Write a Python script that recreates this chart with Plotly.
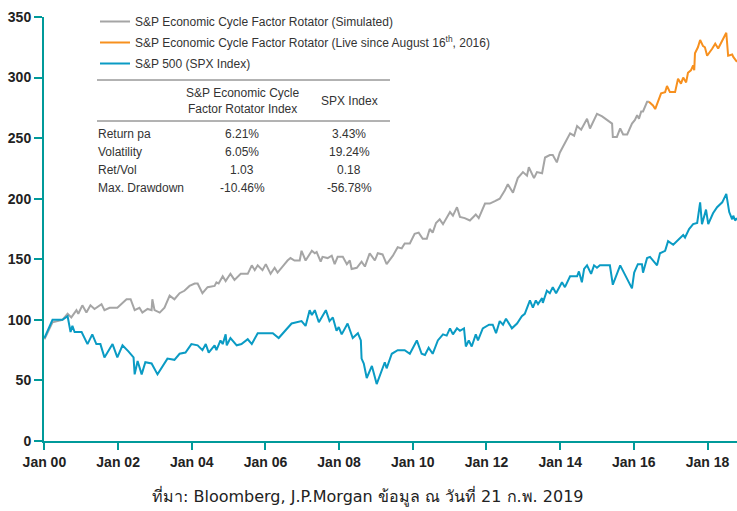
import pandas as pd
import plotly.graph_objects as go

# decimal years, converted to dates below
sim_t = [2000.0, 2000.11, 2000.22, 2000.49, 2000.63, 2000.73, 2000.87, 2000.92, 2001.03, 2001.14,
         2001.25, 2001.36, 2001.55, 2001.63, 2001.77, 2001.98, 2002.12, 2002.23, 2002.34, 2002.45,
         2002.58, 2002.66, 2002.80, 2002.91, 2002.93, 2002.99, 2003.13, 2003.26, 2003.40, 2003.53,
         2003.67, 2003.80, 2003.94, 2004.08, 2004.16, 2004.29, 2004.43, 2004.62, 2004.67, 2004.73,
         2004.84, 2004.92, 2005.05, 2005.16, 2005.33, 2005.52, 2005.63, 2005.71, 2005.79, 2005.92,
         2006.01, 2006.14, 2006.25, 2006.33, 2006.52, 2006.60, 2006.68, 2006.79, 2006.93, 2006.98,
         2007.09, 2007.26, 2007.34, 2007.39, 2007.50, 2007.55, 2007.69, 2007.80, 2007.88, 2007.96,
         2008.10, 2008.21, 2008.29, 2008.34, 2008.48, 2008.61, 2008.70, 2008.83, 2008.97, 2009.05,
         2009.18, 2009.29, 2009.46, 2009.59, 2009.70, 2009.78, 2009.92, 2010.05, 2010.16, 2010.27,
         2010.38, 2010.46, 2010.54, 2010.63, 2010.73, 2010.82, 2011.01, 2011.09, 2011.20, 2011.28,
         2011.41, 2011.55, 2011.71, 2011.79, 2011.96, 2012.09, 2012.23, 2012.36, 2012.50, 2012.58,
         2012.72, 2012.85, 2012.99, 2013.10, 2013.15, 2013.29, 2013.37, 2013.51, 2013.59, 2013.72,
         2013.80, 2013.91, 2013.99, 2014.13, 2014.27, 2014.38, 2014.46, 2014.57, 2014.73, 2014.81,
         2015.00, 2015.14, 2015.41, 2015.43, 2015.54, 2015.63, 2015.71, 2015.82, 2015.95, 2016.03,
         2016.09, 2016.14, 2016.20, 2016.25, 2016.36, 2016.41]
sim_v = [84, 91, 98, 100, 105, 102, 108, 105, 112, 106,
         112, 109, 113, 108, 110, 110, 114, 117, 117, 108,
         110, 106, 109, 108, 117, 108, 106, 110, 120, 117,
         122, 124, 128, 130, 130, 122, 127, 128, 131, 130,
         136, 132, 138, 133, 138, 138, 145, 141, 145, 141,
         146, 138, 143, 139, 146, 149, 151, 149, 149, 157,
         149, 157, 155, 156, 148, 152, 151, 153, 146, 152,
         152, 146, 149, 142, 143, 148, 144, 155, 149, 155,
         154, 146, 153, 160, 159, 163, 163, 171, 172, 167,
         167, 175, 172, 180, 183, 179, 189, 186, 193, 185,
         184, 182, 187, 184, 196, 196, 198, 200, 207, 212,
         205, 217, 222, 219, 226, 217, 222, 221, 234, 236,
         236, 230, 238, 246, 254, 252, 260, 257, 266, 258,
         270, 268, 262, 251, 251, 258, 253, 253, 262, 265,
         269, 266, 272, 272, 280, 280]

live_t = [2016.41, 2016.52, 2016.58, 2016.66, 2016.74, 2016.85, 2016.90, 2016.98, 2017.12, 2017.20,
          2017.28, 2017.34, 2017.42, 2017.47, 2017.55, 2017.61, 2017.64, 2017.66, 2017.74, 2017.80,
          2017.88, 2017.93, 2017.99, 2018.13, 2018.21, 2018.29, 2018.42, 2018.51, 2018.56, 2018.67,
          2018.70, 2018.80]
live_v = [280, 277, 274, 281, 287, 288, 293, 288, 288, 299,
          295, 300, 296, 304, 306, 310, 306, 320, 325, 331,
          326, 325, 318, 324, 328, 324, 332, 337, 318, 319,
          317, 313]

spx_t = [2000.0, 2000.22, 2000.49, 2000.63, 2000.71, 2000.76, 2000.82, 2001.01, 2001.17, 2001.30,
         2001.41, 2001.52, 2001.63, 2001.85, 2001.98, 2002.12, 2002.28, 2002.42, 2002.45, 2002.53,
         2002.64, 2002.74, 2002.91, 2003.07, 2003.34, 2003.53, 2003.67, 2003.83, 2003.99, 2004.16,
         2004.29, 2004.38, 2004.46, 2004.62, 2004.67, 2004.78, 2004.84, 2004.92, 2004.95, 2005.05,
         2005.22, 2005.35, 2005.52, 2005.63, 2005.79, 2006.20, 2006.36, 2006.71, 2006.98, 2007.09,
         2007.20, 2007.26, 2007.34, 2007.45, 2007.64, 2007.74, 2007.83, 2007.93, 2007.99, 2008.07,
         2008.23, 2008.37, 2008.51, 2008.59, 2008.61, 2008.67, 2008.75, 2008.89, 2009.02, 2009.10,
         2009.24, 2009.29, 2009.43, 2009.59, 2009.78, 2009.92, 2010.11, 2010.24, 2010.33, 2010.43,
         2010.54, 2010.68, 2010.82, 2010.92, 2011.01, 2011.09, 2011.20, 2011.28, 2011.39, 2011.44,
         2011.52, 2011.60, 2011.71, 2011.77, 2011.90, 2012.07, 2012.17, 2012.26, 2012.36, 2012.45,
         2012.53, 2012.69, 2012.83, 2012.96, 2013.04, 2013.18, 2013.26, 2013.34, 2013.40, 2013.51,
         2013.53, 2013.64, 2013.72, 2013.80, 2013.89, 2014.05, 2014.13, 2014.27, 2014.46, 2014.51,
         2014.59, 2014.65, 2014.73, 2014.84, 2014.92, 2015.00, 2015.08, 2015.35, 2015.43, 2015.63,
         2015.82, 2015.95, 2016.01, 2016.11, 2016.22, 2016.25, 2016.36, 2016.44, 2016.63, 2016.71,
         2016.85, 2016.93, 2017.07, 2017.20, 2017.34, 2017.39, 2017.50, 2017.61, 2017.72, 2017.80,
         2017.85, 2017.96, 2018.02, 2018.15, 2018.26, 2018.40, 2018.51, 2018.59, 2018.67, 2018.70,
         2018.75, 2018.80]
spx_v = [85, 100, 100, 103, 90, 95, 90, 90, 80, 88,
         80, 80, 69, 80, 69, 79, 74, 69, 55, 66,
         55, 65, 64, 55, 68, 67, 72, 73, 80, 79,
         75, 80, 73, 79, 75, 83, 80, 88, 79, 85,
         79, 80, 84, 80, 89, 89, 85, 97, 99, 95,
         108, 104, 108, 98, 108, 99, 102, 91, 94, 88,
         97, 85, 89, 83, 68, 64, 52, 62, 47, 54,
         65, 60, 72, 75, 75, 72, 83, 72, 71, 77,
         72, 83, 88, 87, 93, 88, 93, 91, 93, 78,
         83, 78, 88, 83, 93, 96, 96, 89, 99, 96,
         101, 93, 97, 103, 105, 116, 110, 116, 113, 118,
         114, 124, 122, 127, 122, 131, 127, 136, 136, 140,
         131, 142, 145, 138, 145, 143, 145, 145, 129, 145,
         134, 126, 139, 146, 146, 139, 151, 152, 145, 155,
         157, 165, 162, 166, 170, 168, 175, 179, 180, 197,
         179, 191, 179, 188, 193, 197, 204, 189, 183, 186,
         182, 184]

table_head = ["S&P Economic Cycle<br>Factor Rotator Index", "SPX Index"]
table_rows = ["Return pa", "Volatility", "Ret/Vol", "Max. Drawdown"]
table_eco = ["6.21%", "6.05%", "1.03", "-10.46%"]
table_spx = ["3.43%", "19.24%", "0.18", "-56.78%"]

def to_dates(ts):
    start = pd.Timestamp("2000-01-01")
    return [start + pd.Timedelta(days=(t - 2000) * 365.25) for t in ts]

TEAL = "#009a9a"
FONT = "Liberation Sans, Arial, sans-serif"

# plot area in pixels, used to place the table
PL, PR, PT, PB = 44, 737, 17, 441
def px(x):
    return (x - PL) / (PR - PL)
def py(y):
    return (PB - y) / (PB - PT)

fig = go.Figure()
fig.add_trace(go.Scatter(x=to_dates(sim_t), y=sim_v, mode="lines", legendgroup="a",
                         name="S&P Economic Cycle Factor Rotator (Simulated)",
                         line=dict(color="#a5a5a5", width=2)))
fig.add_trace(go.Scatter(x=to_dates(live_t), y=live_v, mode="lines", legendgroup="b",
                         name="S&P Economic Cycle Factor Rotator (Live since August 16<sup>th</sup>, 2016)",
                         line=dict(color="#f7901e", width=2)))
fig.add_trace(go.Scatter(x=to_dates(spx_t), y=spx_v, mode="lines", legendgroup="c",
                         name="S&P 500 (SPX Index)",
                         line=dict(color="#0a9bc4", width=2)))

# stats table
fig.add_shape(type="line", xref="paper", yref="paper", x0=px(97), x1=px(390), y0=py(80), y1=py(80),
              line=dict(color="#666", width=1))
fig.add_shape(type="line", xref="paper", yref="paper", x0=px(97), x1=px(390), y0=py(121), y1=py(121),
              line=dict(color="#666", width=1))
for txt, cx in zip(table_head, [242, 349]):
    fig.add_annotation(xref="paper", yref="paper", x=px(cx), y=py(101), text=txt, showarrow=False,
                       xanchor="center", yanchor="middle", align="center",
                       font=dict(family=FONT, size=12, color="#333"))
for i, row in enumerate(table_rows):
    yy = py([134, 152, 170, 188][i])
    fig.add_annotation(xref="paper", yref="paper", x=px(96), y=yy, text=row, showarrow=False,
                       xanchor="left", yanchor="middle", font=dict(family=FONT, size=12, color="#333"))
    fig.add_annotation(xref="paper", yref="paper", x=px(242), y=yy, text=table_eco[i], showarrow=False,
                       xanchor="center", yanchor="middle", font=dict(family=FONT, size=12, color="#333"))
    fig.add_annotation(xref="paper", yref="paper", x=px(349), y=yy, text=table_spx[i], showarrow=False,
                       xanchor="center", yanchor="middle", font=dict(family=FONT, size=12, color="#333"))

fig.add_annotation(xref="paper", yref="paper", x=px(368), y=py(496),
                   text="ที่มา: Bloomberg, J.P.Morgan ข้อมูล ณ วันที่ 21 ก.พ. 2019",
                   showarrow=False, xanchor="center", yanchor="middle",
                   font=dict(family="Tahoma, DejaVu Sans, sans-serif", size=16, color="#222"))

fig.update_layout(
    width=737, height=511,
    margin=dict(l=44, r=0, t=17, b=70, autoexpand=False),
    plot_bgcolor="white", paper_bgcolor="white",
    font=dict(family=FONT, size=12, color="#333"),
    legend=dict(x=px(95), y=py(7), xanchor="left", yanchor="top", bgcolor="rgba(0,0,0,0)",
                traceorder="grouped", tracegroupgap=2, font=dict(size=12, color="#333")),
    xaxis=dict(range=[pd.Timestamp("1999-12-28"), pd.Timestamp("2018-10-20")],
               tickformat="%b %y", dtick="M24", tick0="2000-01-01", automargin=False,
               showline=True, linecolor=TEAL, linewidth=2, ticks="outside", ticklen=7,
               tickwidth=2, tickcolor=TEAL, showgrid=False, zeroline=False,
               tickfont=dict(family=FONT, size=14, color="#222", weight="bold")),
    yaxis=dict(range=[0, 350], dtick=50, showline=True, linecolor=TEAL, linewidth=2,
               ticks="outside", ticklen=8, tickwidth=2, tickcolor=TEAL, showgrid=False,
               automargin=False,
               zeroline=False, tickfont=dict(family=FONT, size=14, color="#222", weight="bold")),
)

# drop the default page margin so the figure sits at the window's corner
fig.write_html("out.html", config={"displayModeBar": False},
               post_script="document.body.style.margin='0';")
